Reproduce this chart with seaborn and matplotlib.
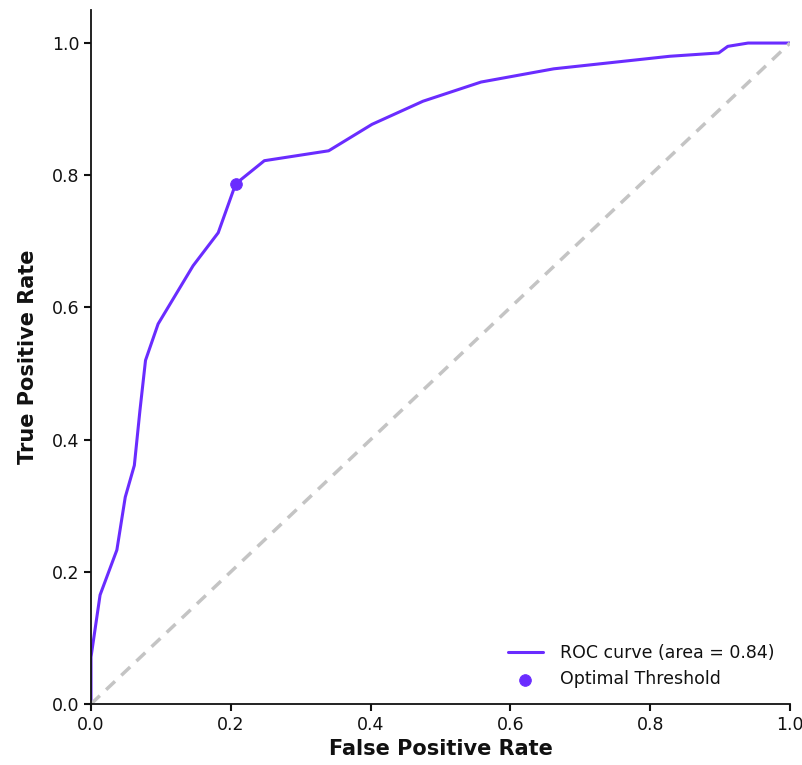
import matplotlib
matplotlib.use("Agg")
import matplotlib.pyplot as plt
import seaborn as sns
import pandas as pd

fpr = [0.0, 0.0, 0.013, 0.037, 0.049, 0.062, 0.070, 0.078, 0.096, 0.146, 0.182, 0.207,
       0.248, 0.340, 0.402, 0.475, 0.558, 0.662, 0.828, 0.898, 0.911, 0.940, 1.0]
tpr = [0.0, 0.071, 0.165, 0.233, 0.313, 0.361, 0.444, 0.520, 0.575, 0.663, 0.713, 0.787,
       0.822, 0.837, 0.877, 0.912, 0.941, 0.961, 0.980, 0.985, 0.995, 1.0, 1.0]
opt_fpr = [0.207]
opt_tpr = [0.787]
roc_label = "ROC curve (area = 0.84)"
opt_label = "Optimal Threshold"

sns.set_style("white")
plt.rcParams['font.family'] = ['DejaVu Sans']
plt.rcParams['text.color'] = '#111111'
plt.rcParams['axes.labelcolor'] = '#111111'

purple = "#6a2cff"
fig = plt.figure(figsize=(8.03, 7.65), dpi=100)
ax = fig.add_axes([91/803, 61/765, 699/803, 694/765])

df = pd.DataFrame({"fpr": fpr, "tpr": tpr})
sns.lineplot(data=df, x="fpr", y="tpr", ax=ax, color=purple, lw=2.2, label=roc_label,
             sort=False, estimator=None)
ax.plot([0, 1], [0, 1], color="#c4c4c4", lw=2.5, ls=(0, (3.5, 2.5)))
sns.scatterplot(x=opt_fpr, y=opt_tpr, ax=ax, color=purple, s=70, edgecolor=purple,
                label=opt_label, zorder=5)

ax.set_xlim(0, 1.0)
ax.set_ylim(0, 1.05)
ax.set_xticks([0, 0.2, 0.4, 0.6, 0.8, 1.0])
ax.set_yticks([0, 0.2, 0.4, 0.6, 0.8, 1.0])
ax.set_xticklabels(["0.0", "0.2", "0.4", "0.6", "0.8", "1.0"])
ax.set_yticklabels(["0.0", "0.2", "0.4", "0.6", "0.8", "1.0"])
ax.tick_params(axis="both", labelsize=12.5, length=5, width=1.5, direction="out",
               colors="#111111", bottom=True, left=True)
for s in ["top", "right"]:
    ax.spines[s].set_visible(False)
for s in ["left", "bottom"]:
    ax.spines[s].set_color("#111111")
    ax.spines[s].set_linewidth(1.3)
ax.set_xlabel("False Positive Rate", fontsize=15, fontweight="bold", labelpad=4)
ax.set_ylabel("True Positive Rate", fontsize=15, fontweight="bold", labelpad=10)
leg = ax.legend(loc="lower right", frameon=False, fontsize=12.5, handlelength=2.0,
                handletextpad=1.0)
for t in leg.get_texts():
    t.set_color("#111111")

fig.savefig("out.png", dpi=100)
